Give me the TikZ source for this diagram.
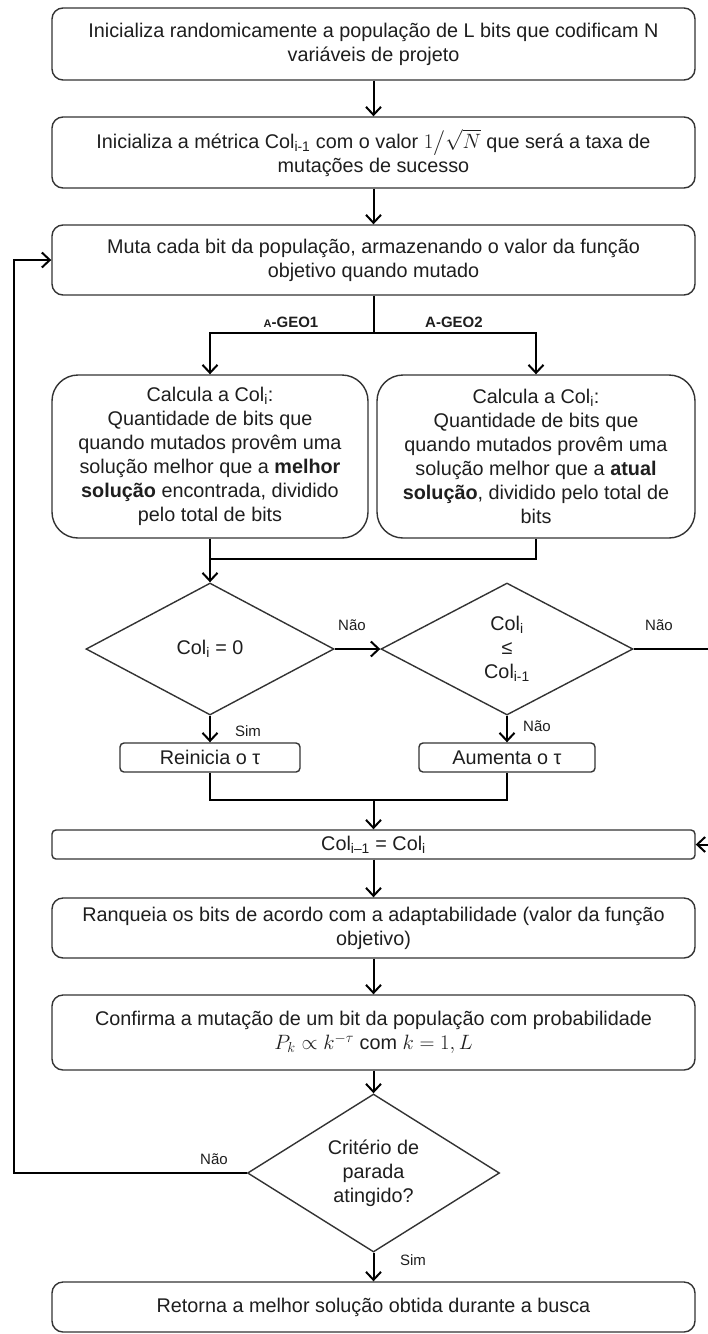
\documentclass[tikz,border=0pt]{standalone}
\usepackage{fontspec}
\setmainfont{Liberation Sans}
\usepackage{amsmath}
\usetikzlibrary{shapes.geometric,arrows.meta}

\newcommand{\sbs}[1]{\textsubscript{#1}}
\newcommand{\boxfont}{\fontsize{19.8}{24}\selectfont}
\newcommand{\lblfont}{\fontsize{15}{17}\selectfont}

\definecolor{edgegray}{HTML}{333333}
\definecolor{txtgray}{HTML}{1E1E1E}

\tikzset{
  proc/.style={draw=edgegray, line width=1.4pt, rounded corners=11pt, align=center,
    font=\boxfont, text=txtgray, inner sep=0pt, fill=white},
  bigproc/.style={proc, rounded corners=26pt},
  smallproc/.style={proc, rounded corners=4pt},
  decision/.style={diamond, draw=edgegray, line width=1.4pt, align=center,
    font=\boxfont, text=txtgray, inner sep=0pt, fill=white},
  conn/.style={draw=black, line width=2pt},
  arr/.style={conn, -{Straight Barb[length=8pt,width=15pt,line width=2pt]}},
  lbl/.style={font=\lblfont, text=txtgray, inner sep=0pt},
}

\begin{document}
\begin{tikzpicture}[x=1pt,y=-1pt]
  \path[use as bounding box, fill=white] (0,0) rectangle (708,1334);
  \clip (0,0) rectangle (708,1334);

  % main column
  \node[proc, minimum width=643pt, minimum height=72pt] (init) at (373.5,44)
    {Inicializa randomicamente a população de L bits que codificam N\\variáveis de projeto};
  \node[proc, minimum width=643pt, minimum height=71pt] (metric) at (373.5,152.5)
    {Inicializa a métrica Col\sbs{i-1} com o valor $1\big/\sqrt{N}$ que será a taxa de\\mutações de sucesso};
  \node[proc, minimum width=643pt, minimum height=70pt] (mutate) at (373.5,260)
    {Muta cada bit da população, armazenando o valor da função\\objetivo quando mutado};

  % two variants
  \node[bigproc, minimum width=316pt, minimum height=163pt] (geoA) at (210,456.5)
    {Calcula a Col\sbs{i}:\\Quantidade de bits que\\quando mutados provêm uma\\solução melhor que a \textbf{melhor}\\\textbf{solução} encontrada, dividido\\pelo total de bits};
  \node[bigproc, minimum width=318pt, minimum height=163pt] (geoB) at (536,456.5)
    {Calcula a Col\sbs{i}:\\Quantidade de bits que\\quando mutados provêm uma\\solução melhor que a \textbf{atual}\\\textbf{solução}, dividido pelo total de\\bits};

  % decisions on the success rate
  \node[decision, minimum width=248pt, minimum height=132pt] (zero) at (210,649)
    {Col\sbs{i} = 0};
  \node[decision, minimum width=252pt, minimum height=132pt] (leq) at (507,649)
    {Col\sbs{i}\\≤\\Col\sbs{i-1}};

  \node[smallproc, minimum width=180pt, minimum height=29pt] (reset) at (210,757.5)
    {Reinicia o τ};
  \node[smallproc, minimum width=176pt, minimum height=29pt] (raise) at (507,757.5)
    {Aumenta o τ};

  \node[smallproc, minimum width=643pt, minimum height=29pt] (update) at (373.5,844.5)
    {Col\sbs{i–1} = Col\sbs{i}};
  \node[proc, minimum width=643pt, minimum height=60pt] (rank) at (373.5,928)
    {Ranqueia os bits de acordo com a adaptabilidade (valor da função\\objetivo)};
  \node[proc, minimum width=643pt, minimum height=75pt] (confirm) at (373.5,1032.5)
    {Confirma a mutação de um bit da população com probabilidade\\$P_k \propto k^{-\tau}\ \mathrm{com}\ k=1,L$};
  \node[decision, minimum width=252pt, minimum height=130pt] (stop) at (373.5,1173)
    {Critério de\\parada\\atingido?};
  \node[proc, minimum width=643pt, minimum height=50pt] (final) at (373.5,1307)
    {Retorna a melhor solução obtida durante a busca};

  % junction points
  \coordinate (split) at (373.5,333);
  \coordinate (merge) at (210,559);
  \coordinate (join) at (373.5,800);
  \coordinate (rightout) at (730,649);
  \coordinate (leftout) at (14,1173);

  % connectors
  \draw[arr] (init) -- (metric);
  \draw[arr] (metric) -- (mutate);
  \draw[conn] (mutate) -- (split);
  \draw[arr] (split) -| (geoA.north);
  \draw[arr] (split) -| (geoB.north);
  \draw[conn] (geoB.south) |- (merge);
  \draw[arr] (geoA.south) -- (zero.north);
  \draw[arr] (zero.east) -- (leq.west);
  \draw[arr] (zero.south) -- (reset.north);
  \draw[arr] (leq.south) -- (raise.north);
  \draw[arr] (leq.east) -- (rightout) |- (update.east);
  \draw[conn] (reset.south) |- (join) -| (raise.south);
  \draw[arr] (join) -- (update.north);
  \draw[arr] (update) -- (rank);
  \draw[arr] (rank) -- (confirm);
  \draw[arr] (confirm) -- (stop);
  \draw[arr] (stop) -- (final);
  \draw[arr] (stop.west) -- (leftout) |- (mutate.west);

  % labels
  \node[lbl, font=\lblfont\bfseries] (lA) at (291,322) {{\fontsize{11}{12}\selectfont A}-GEO1};
  \node[lbl, font=\lblfont\bfseries] (lB) at (454,322) {A-GEO2};
  \node[lbl] (l1) at (352,625) {Não};
  \node[lbl] (l2) at (659,625) {Não};
  \node[lbl] (l3) at (248,731) {Sim};
  \node[lbl] (l4) at (537,726) {Não};
  \node[lbl] (l5) at (214,1159) {Não};
  \node[lbl] (l6) at (413,1260) {Sim};
\end{tikzpicture}
\end{document}
